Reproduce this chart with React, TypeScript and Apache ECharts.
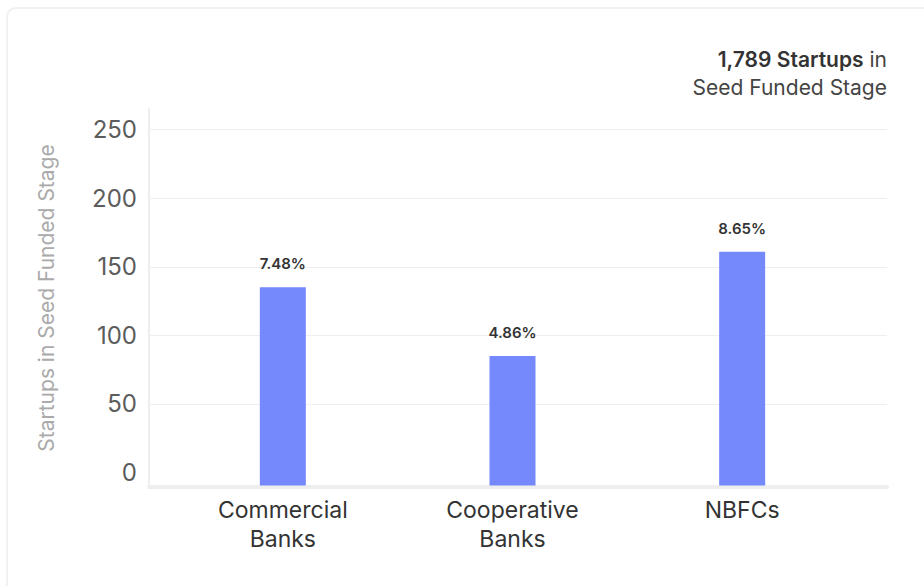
import React, { useEffect, useRef } from "react";
import * as echarts from "echarts";

// Lending categories and startup counts in the seed funded stage
const categories: string[] = ["Commercial\nBanks", "Cooperative\nBanks", "NBFCs"];
const startupCounts: number[] = [135, 85, 161];
const shareLabels: string[] = ["7.48%", "4.86%", "8.65%"];

// Value-axis labels and grid lines
const yTickLabels: number[] = [0, 50, 100, 150, 200, 250];
const yGridLines: number[] = [50, 100, 150, 200, 250];

const totalStartups = "1,789";

const FONT = "Inter, 'Noto Sans', sans-serif";

// Shared value range for the frame grid and the bar grid
const Y_MIN = -10.5;
const Y_MAX = 265;
const BAR_BASE = -9.4;

export default function App() {
  const ref = useRef<HTMLDivElement>(null);

  useEffect(() => {
    if (!ref.current) return;
    const chart = echarts.init(ref.current, undefined, { renderer: "svg" });
    chart.setOption({
      animation: false,
      textStyle: { fontFamily: FONT },
      grid: [
        // frame: axis lines, value labels and grid lines
        { left: 149, right: 37, top: 109, bottom: 99, containLabel: false },
        // plotting area for the bars, inset from the frame
        { left: 168, right: 67, top: 109, bottom: 99, containLabel: false },
      ],
      graphic: [
        {
          type: "text",
          x: 887,
          y: 49,
          style: {
            text: `{b|${totalStartups} Startups}{n| in}`,
            align: "right",
            rich: {
              b: { fontFamily: FONT, fontSize: 21, fontWeight: 600, fill: "#333" },
              n: { fontFamily: FONT, fontSize: 21, fontWeight: 400, fill: "#444" },
            },
          },
        },
        {
          type: "text",
          x: 887,
          y: 77,
          style: {
            text: "Seed Funded Stage",
            align: "right",
            fontFamily: FONT,
            fontSize: 21,
            fill: "#444",
          },
        },
      ],
      xAxis: [
        {
          type: "category",
          gridIndex: 0,
          data: [""],
          axisLine: { show: true, onZero: false, lineStyle: { color: "#eeeeee", width: 4 } },
          axisTick: { show: false },
          axisLabel: { show: false },
          splitLine: { show: false },
        },
        {
          type: "category",
          gridIndex: 1,
          data: categories,
          axisLine: { show: false, onZero: false },
          axisTick: { show: false },
          axisLabel: {
            color: "#333",
            fontSize: 23,
            lineHeight: 29,
            margin: 8,
            fontFamily: FONT,
          },
          splitLine: { show: false },
        },
      ],
      yAxis: [
        {
          type: "value",
          gridIndex: 0,
          min: Y_MIN,
          max: Y_MAX,
          name: "Startups in Seed Funded Stage",
          nameLocation: "middle",
          nameGap: 92,
          nameTextStyle: { color: "#aaaaaa", fontSize: 21, fontFamily: FONT },
          axisLine: { show: true, lineStyle: { color: "#eeeeee", width: 2 } },
          axisTick: { show: false, customValues: yGridLines },
          axisLabel: {
            customValues: yTickLabels,
            color: "#5c5c5c",
            fontSize: 24,
            margin: 12,
            fontFamily: FONT,
          },
          splitLine: { show: true, lineStyle: { color: "#efefef", width: 1 } },
        },
        {
          type: "value",
          gridIndex: 1,
          min: Y_MIN,
          max: Y_MAX,
          startValue: BAR_BASE,
          axisLine: { show: false },
          axisTick: { show: false },
          axisLabel: { show: false },
          splitLine: { show: false },
        },
      ],
      series: [
        {
          type: "bar",
          xAxisIndex: 1,
          yAxisIndex: 1,
          data: startupCounts,
          barWidth: 46,
          itemStyle: { color: "#7589fc" },
          label: {
            show: true,
            position: "top",
            distance: 16,
            color: "#333",
            fontSize: 15,
            fontWeight: 600,
            fontFamily: FONT,
            formatter: (p: any) => shareLabels[p.dataIndex],
          },
        },
      ],
    });
    return () => chart.dispose();
  }, []);

  return (
    <div
      style={{
        position: "fixed",
        left: 0,
        top: 0,
        width: 924,
        height: 586,
        overflow: "hidden",
        background: "#fff",
      }}
    >
      <div
        style={{
          position: "absolute",
          left: 6,
          top: 7,
          width: 960,
          height: 620,
          border: "2px solid #f1f1f1",
          borderRadius: 10,
          boxSizing: "border-box",
        }}
      />
      <div ref={ref} style={{ position: "absolute", left: 0, top: 0, width: 924, height: 586 }} />
    </div>
  );
}
